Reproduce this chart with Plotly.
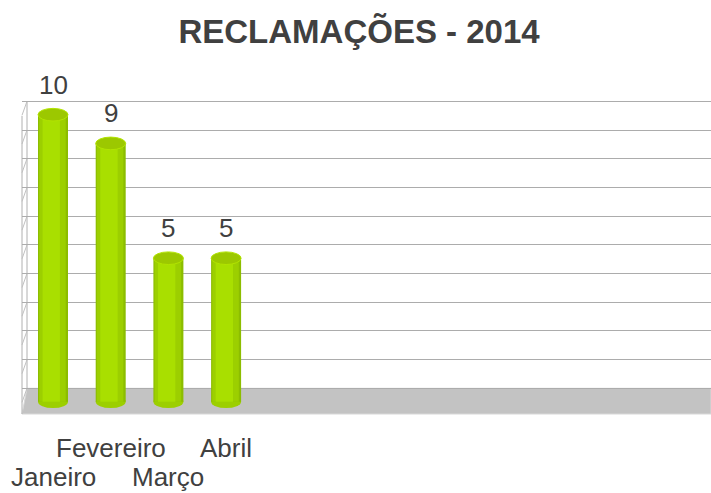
import plotly.graph_objects as go

# ---------------- data ----------------
months = ["Janeiro", "Fevereiro", "Março", "Abril", "", "", "", "", "", "", "", ""]
values = [10, 9, 5, 5, None, None, None, None, None, None, None, None]
title_text = "RECLAMAÇÕES - 2014"
grid_ticks = list(range(0, 11))

W, H = 711, 493
L, R, T, B = 22, 0, 95, 79
PW, PH = W - L - R, H - T - B

def px(x):
    return (x - L) / PW

def py(y):
    return (H - B - y) / PH

xs = list(range(len(months)))
bx = [x for x, v in zip(xs, values) if v is not None]
bv = [v for v in values if v is not None]

fig = go.Figure()

# cylinder bodies (layered shading)
shades = [(0.52, -0.26, "#8cbd00"), (0.46, -0.24, "#9ccf00"), (0.30, -0.18, "#a9df00")]
for w, off, col in shades:
    fig.add_trace(go.Bar(x=bx, y=bv, width=w, offset=off, marker_color=col,
                         marker_line_width=0, yaxis="y2", hoverinfo="skip",
                         showlegend=False))

# invisible trace to activate grid axis
fig.add_trace(go.Scatter(x=[0], y=[0], yaxis="y", mode="markers",
                         marker_opacity=0, showlegend=False, hoverinfo="skip"))

shapes = []
# floor
shapes.append(dict(type="path", xref="paper", yref="paper", layer="below",
                   path=f"M {px(27)},{py(388.3)} L {px(711)},{py(388.3)} L {px(711)},{py(414)} L {px(22)},{py(414)} Z",
                   fillcolor="#c3c3c3", line=dict(color="#d8d8d8", width=1)))
# left wall
shapes.append(dict(type="line", xref="paper", yref="paper", layer="below",
                   x0=px(27), y0=py(101.3), x1=px(27), y1=py(388.3),
                   line=dict(color="#b0b0b0", width=1)))
shapes.append(dict(type="line", xref="paper", yref="paper", layer="below",
                   x0=px(22), y0=py(116), x1=px(22), y1=py(414),
                   line=dict(color="#b0b0b0", width=1)))
for t in grid_ticks:
    yg = 388.3 - t * 28.7
    shapes.append(dict(type="line", xref="paper", yref="paper", layer="below",
                       x0=px(27), y0=py(yg), x1=px(22), y1=py(yg + 14),
                       line=dict(color="#c0c0c0", width=1)))

# cylinder caps
for x, v in zip(bx, bv):
    shapes.append(dict(type="circle", xref="x", yref="y2", layer="below",
                       x0=x - 0.26, x1=x + 0.26, y0=-0.22, y1=0.22,
                       fillcolor="#9ccf00", line=dict(width=0)))
    shapes.append(dict(type="circle", xref="x", yref="y2", layer="above",
                       x0=x - 0.26, x1=x + 0.26, y0=v - 0.22, y1=v + 0.22,
                       fillcolor="#9cc800", line=dict(color="#b2e400", width=1)))

annotations = []
for x, v in zip(bx, bv):
    annotations.append(dict(x=x, y=v, xref="x", yref="y2", text=str(v),
                            showarrow=False, yanchor="bottom", yshift=13,
                            font=dict(family="Liberation Sans, Arial", size=26, color="#404040")))
for i, m in enumerate(months):
    if m:
        annotations.append(dict(x=i, y=0, xref="x", yref="paper", text=m,
                                showarrow=False, yanchor="top",
                                yshift=-17 if i % 2 else -46,
                                font=dict(family="Liberation Sans, Arial", size=26, color="#404040")))

scale = 28.7
fig.update_layout(
    width=W, height=H,
    margin=dict(l=L, r=R, t=T, b=B, pad=0, autoexpand=False),
    paper_bgcolor="white", plot_bgcolor="rgba(0,0,0,0)",
    barmode="overlay",
    title=dict(text=title_text, x=0.505, xanchor="center", y=1 - 31 / H, yanchor="middle",
               font=dict(family="Liberation Sans, Arial", size=33, color="#404040", weight="bold")),
    xaxis=dict(range=[-31 / 57.7, (711 - 53) / 57.7], showgrid=False, zeroline=False,
               showticklabels=False, ticks="", showline=False, fixedrange=True),
    yaxis=dict(range=[-(414 - 388.3) / scale, (388.3 - 95) / scale], tickvals=grid_ticks,
               showgrid=True, gridcolor="#acacac", gridwidth=1, zeroline=False,
               showticklabels=False, ticks="", showline=False, fixedrange=True),
    yaxis2=dict(range=[-(414 - 401.7) / scale, (401.7 - 95) / scale], overlaying="y",
                showgrid=False, zeroline=False, showticklabels=False, ticks="", showline=False,
                fixedrange=True),
    shapes=shapes,
    annotations=annotations,
    showlegend=False,
)

fig.write_html("out.html", config={"displayModeBar": False},
               post_script="document.body.style.margin='0';document.body.style.overflow='hidden';")
